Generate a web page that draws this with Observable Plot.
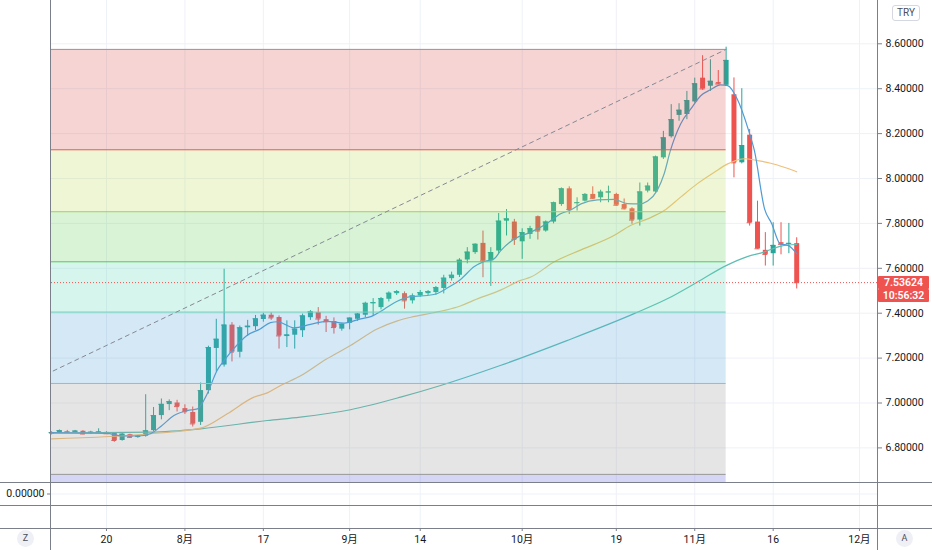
<!DOCTYPE html>
<html><head><meta charset="utf-8">
<script src="https://cdn.jsdelivr.net/npm/d3@7"></script>
<script src="https://cdn.jsdelivr.net/npm/@observablehq/plot@0.6"></script>
<style>
body{margin:0;background:#fff;}
#wrap{position:relative;width:932px;height:550px;overflow:hidden;background:#fff;
  font-family:Roboto,"Noto Sans CJK SC",sans-serif;color:#131722;}
#wrap svg{display:block;background:transparent}
.hl{position:absolute;left:0;width:932px;height:1px;background:#7b7f89}
.vl{position:absolute;top:0;width:1px;height:550px;background:#7b7f89}
.pl{position:absolute;left:878px;width:51px;height:13px;background:#ef5350;color:#fff;
  font-size:10.5px;line-height:13px;text-align:center;font-weight:600;border-radius:1px}
.circ{position:absolute;width:17px;height:17px;border-radius:50%;background:#eef0f5;
  font-size:9px;line-height:17px;text-align:center;color:#4a4e59}
#try{position:absolute;left:892px;top:5px;width:26px;height:14px;border:1px solid #d5d8e0;border-radius:3px;
  font-size:10px;line-height:14px;text-align:center;color:#4a4e59}
</style></head><body>
<div id="wrap"><div id="main"></div><div id="sub"></div></div>
<script>
// ---- data (USD/TRY daily candles, index 0 = 20 Jul) ----
const firstIndex = -7;
const opens  = [6.862,6.868,6.873,6.869,6.874,6.864,6.866,6.869,6.864,6.833,6.859,6.846,6.852,6.877,6.944,6.993,7.000,6.975,6.958,6.914,
  7.055,7.243,7.169,7.347,7.226,7.335,7.340,7.372,7.391,7.381,7.296,7.302,7.322,7.380,7.403,7.371,7.363,7.329,7.355,7.373,
  7.391,7.442,7.425,7.462,7.487,7.487,7.455,7.477,7.487,7.492,7.510,7.554,7.569,7.637,7.670,7.711,7.633,7.677,7.810,7.806,
  7.718,7.751,7.830,7.766,7.806,7.884,7.954,7.889,7.899,7.929,7.914,7.936,7.929,7.884,7.865,7.815,7.944,7.940,8.092,8.186,
  8.281,8.285,8.341,8.447,8.411,8.427,8.415,8.373,8.070,8.193,7.806,7.680,7.665,7.714,7.708,7.710];
const highs  = [6.872,6.880,6.878,6.878,6.877,6.874,6.885,6.872,6.866,6.864,6.861,6.855,7.037,6.980,7.018,7.014,7.012,6.992,6.982,7.089,
  7.253,7.373,7.596,7.358,7.343,7.368,7.390,7.400,7.402,7.388,7.366,7.366,7.396,7.412,7.425,7.386,7.379,7.353,7.379,7.398,
  7.449,7.465,7.470,7.495,7.501,7.495,7.486,7.501,7.501,7.519,7.569,7.583,7.643,7.692,7.709,7.766,7.692,7.844,7.862,7.818,
  7.776,7.787,7.833,7.811,7.895,7.958,7.963,7.914,7.933,7.963,7.948,7.966,7.934,7.909,7.870,7.980,7.980,8.100,8.210,8.329,
  8.333,8.388,8.447,8.547,8.529,8.481,8.585,8.448,8.400,8.218,7.899,7.759,7.803,7.803,7.800,7.736];
const lows   = [6.858,6.864,6.866,6.866,6.859,6.860,6.864,6.860,6.825,6.830,6.843,6.843,6.848,6.872,6.925,6.966,6.960,6.949,6.893,6.900,
  7.040,7.138,7.160,7.183,7.201,7.296,7.323,7.360,7.368,7.240,7.247,7.240,7.292,7.368,7.347,7.314,7.307,7.320,7.326,7.364,
  7.380,7.385,7.415,7.450,7.479,7.418,7.441,7.471,7.479,7.479,7.486,7.543,7.559,7.620,7.662,7.558,7.519,7.665,7.744,7.702,
  7.640,7.729,7.726,7.761,7.798,7.876,7.840,7.855,7.895,7.906,7.892,7.892,7.877,7.860,7.796,7.788,7.936,7.935,8.085,8.180,
  8.255,8.262,8.335,8.393,8.388,8.419,8.410,8.003,8.065,7.788,7.685,7.610,7.610,7.660,7.665,7.508];
const closes = [6.868,6.877,6.871,6.875,6.862,6.870,6.871,6.863,6.833,6.861,6.847,6.853,6.876,6.944,6.994,7.006,6.984,6.961,6.907,7.055,
  7.247,7.284,7.347,7.227,7.335,7.342,7.375,7.391,7.379,7.299,7.303,7.329,7.388,7.406,7.374,7.362,7.336,7.351,7.378,7.396,
  7.444,7.447,7.465,7.489,7.496,7.455,7.477,7.492,7.496,7.514,7.556,7.569,7.636,7.672,7.707,7.633,7.670,7.810,7.820,7.729,
  7.759,7.776,7.766,7.806,7.892,7.954,7.862,7.892,7.929,7.910,7.939,7.940,7.881,7.865,7.815,7.940,7.966,8.096,8.181,8.262,
  8.304,8.347,8.422,8.399,8.433,8.421,8.526,8.070,8.147,7.803,7.687,7.662,7.702,7.707,7.711,7.536];

// moving averages: [bar index, price]
const maFast = [[-7,6.868],[-3,6.866],[0,6.865],[2,6.853],[4,6.853],[5.6,6.863],[7,6.898],[8.6,6.944],[10.3,6.966],[11.6,6.974],
  [12.8,7.038],[14.1,7.145],[15,7.189],[16.2,7.241],[17.9,7.301],[19.6,7.330],[20.9,7.358],[21.8,7.362],[23.9,7.335],[26,7.350],
  [28.1,7.364],[30.3,7.356],[32.4,7.375],[33.7,7.385],[35.4,7.418],[37,7.452],[38.8,7.474],[40.9,7.479],[42.2,7.488],[43.5,7.513],
  [45.1,7.549],[46.9,7.608],[48.1,7.630],[49.4,7.642],[50.3,7.680],[52,7.731],[54.1,7.761],[56.2,7.801],[57.9,7.843],[59.2,7.860],
  [60.5,7.887],[62.6,7.905],[64.7,7.907],[66.4,7.888],[67.9,7.887],[69,7.900],[70.2,7.946],[71.1,8.021],[71.9,8.125],[73.2,8.243],
  [74.5,8.310],[75.8,8.370],[77,8.395],[78.3,8.417],[79.2,8.414],[80.4,8.355],[81.9,8.210],[82.6,8.125],[83.9,7.865],[84.8,7.800],
  [85.9,7.709],[86.9,7.702],[88,7.665]];
const maMid = [[-7,6.840],[5.6,6.863],[12,6.888],[15.4,6.952],[18.8,7.026],[20.5,7.045],[22.2,7.078],[24.7,7.120],[28,7.195],[31.1,7.256],
  [34.5,7.330],[37,7.365],[38.8,7.382],[41.7,7.402],[43,7.412],[45.1,7.432],[46.8,7.457],[50.3,7.504],[52.8,7.546],[54.1,7.561],
  [57,7.627],[60.5,7.682],[64.7,7.746],[66.8,7.791],[69,7.820],[71.1,7.857],[73.2,7.917],[75.3,7.976],[77.5,8.028],[79.2,8.065],
  [80,8.077],[81.3,8.088],[83,8.080],[84.7,8.068],[86.4,8.050],[88,8.030]];
const maSlow = [[-7,6.866],[5.6,6.870],[12,6.885],[20.5,6.922],[24.7,6.937],[31.1,6.970],[37.5,7.026],[42.6,7.078],[50.2,7.167],
  [58.7,7.278],[67.2,7.397],[71.5,7.464],[75.3,7.538],[79,7.612],[81.7,7.652],[83.8,7.672],[86,7.699],[88,7.706]];

// Fibonacci retracement drawing (off-screen low to the 8.575 high)
const fibStart = -34.4, fibEnd = 79;
const fibLevels = [8.575, 8.128, 7.852, 7.629, 7.405, 7.087, 6.682, 5.512];
const fibLineColors = ["#9598a1","#ef5350","#a3d25a","#55cc55","#6fd3b8","#86bfdc","#9a9a9a","#8888e0"];
const fibZoneColors = ["rgb(215,83,79)","rgb(187,219,91)","rgb(103,207,91)","rgb(91,215,179)","rgb(83,163,215)","rgb(151,151,151)","rgb(87,87,215)"];
const lastPrice = 7.53624, lastTime = "10:56:32";

const yTicks = [6.8,7.0,7.2,7.4,7.6,7.8,8.0,8.2,8.4,8.6];
const xTicks = [0,10,20,31,40,53,65,75,85,96];
const xTickLabels = ["20","8月","17","9月","14","10月","19","11月","16","12月"];

// ---- build ----
const up = "#26a69a", down = "#ef5350";
const candles = closes.map((c,k)=>({i:firstIndex+k,o:opens[k],h:highs[k],l:lows[k],c,col:c>=opens[k]?up:down}));
const zones = fibZoneColors.map((col,k)=>({top:fibLevels[k],bot:fibLevels[k+1],col}));
const fibLines = fibLevels.slice(0,7).map((v,k)=>({v,col:fibLineColors[k]}));
const xDomain = [-7.01, 98.3];
const W = 932, mL = 51, mR = 55;
const grid = "#eef1f7";

const main = Plot.plot({
  width:W, height:482, marginLeft:mL, marginRight:mR, marginTop:0, marginBottom:0,
  style:{fontFamily:"Roboto, 'Noto Sans CJK SC', sans-serif", fontSize:"10.5px", color:"#131722", background:"transparent"},
  x:{domain:xDomain, axis:null},
  y:{domain:[6.6459, 8.7929]},
  color:{type:"identity"},
  marks:[
    Plot.gridY(yTicks,{stroke:grid, strokeOpacity:1}),
    Plot.gridX(xTicks,{stroke:grid, strokeOpacity:1}),
    Plot.ruleX(candles,{x:"i", y1:"l", y2:"h", stroke:"col", strokeWidth:1}),
    Plot.ruleX(candles,{x:"i", y1:"o", y2:"c", stroke:"col", strokeWidth:5}),
    Plot.ruleY(candles,{y:"c", x1:d=>d.i-0.32, x2:d=>d.i+0.32, stroke:"col", strokeWidth:1}),
    Plot.line(maSlow,{x:d=>d[0], y:d=>d[1], stroke:"#5dbdb3", strokeWidth:1.2, curve:"monotone-x"}),
    Plot.line(maMid,{x:d=>d[0], y:d=>d[1], stroke:"#f0c07a", strokeWidth:1.2, curve:"monotone-x"}),
    Plot.line(maFast,{x:d=>d[0], y:d=>d[1], stroke:"#4f9bd6", strokeWidth:1.2, curve:"monotone-x"}),
    Plot.rect(zones,{x1:()=>fibStart, x2:()=>fibEnd, y1:"top", y2:"bot", fill:"col", fillOpacity:0.25, clip:true}),
    Plot.ruleY(fibLines,{y:"v", x1:()=>fibStart, x2:()=>fibEnd, stroke:"col", strokeWidth:1, clip:true}),
    Plot.line([[fibStart,fibLevels[6]],[fibEnd,fibLevels[0]]],{x:d=>d[0], y:d=>d[1], stroke:"#868993", strokeWidth:1, strokeDasharray:"4,4", clip:true}),
    Plot.ruleY([lastPrice],{stroke:"#ef5350", strokeWidth:1, strokeDasharray:"1,2"}),
    Plot.axisY({anchor:"right", ticks:yTicks, tickFormat:d=>d.toFixed(5), tickSize:4, tickPadding:4, label:null, stroke:"#7b7f89"})
  ]
});
document.getElementById("main").appendChild(main);

const sub = Plot.plot({
  width:W, height:68, marginLeft:mL, marginRight:mR, marginTop:0, marginBottom:22,
  style:{fontFamily:"Roboto, 'Noto Sans CJK SC', sans-serif", fontSize:"10.5px", color:"#131722", background:"transparent"},
  x:{domain:xDomain},
  y:{domain:[-3,1]},
  marks:[
    Plot.gridX(xTicks,{stroke:grid, strokeOpacity:1}),
    Plot.gridY([0],{stroke:grid, strokeOpacity:1}),
    Plot.axisX({ticks:xTicks, tickFormat:d=>xTickLabels[xTicks.indexOf(d)], tickSize:3, tickPadding:4, label:null, stroke:"#7b7f89"}),
    Plot.axisY({anchor:"left", ticks:[0], tickFormat:()=>"0.00000", tickSize:4, tickPadding:3, label:null, stroke:"#7b7f89"})
  ]
});
document.getElementById("sub").appendChild(sub);

// ---- chrome: pane borders, labels ----
const wrap = document.getElementById("wrap");
function add(cls, css, txt){const d=document.createElement("div");d.className=cls;Object.assign(d.style,css);if(txt)d.textContent=txt;wrap.appendChild(d);return d;}
[482,505,528].forEach(t=>add("hl",{top:t+"px"}));
[mL-1, W-mR].forEach(l=>add("vl",{left:l+"px"}));
const yPx = main.scale("y").apply(lastPrice);
add("pl",{top:(yPx-6.5)+"px"}, lastPrice.toFixed(5));
add("pl",{top:(yPx+7)+"px"}, lastTime);
const tr = document.createElement("div"); tr.id="try"; tr.textContent="TRY"; wrap.appendChild(tr);
add("circ",{left:"17px",top:"530px"},"Z");
add("circ",{left:"896px",top:"530px"},"A");
</script>
</body></html>
